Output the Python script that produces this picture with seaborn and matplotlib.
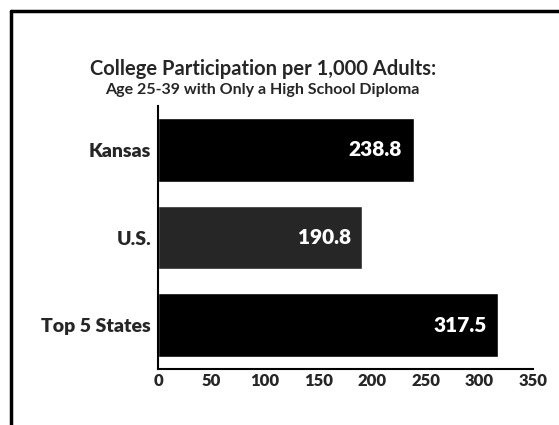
import matplotlib
matplotlib.use("Agg")
import matplotlib.pyplot as plt
import seaborn as sns
import pandas as pd
from matplotlib.lines import Line2D

categories = ["Kansas", "U.S.", "Top 5 States"]
values = [238.8, 190.8, 317.5]
bar_colors = ["#000000", "#262626", "#000000"]
x_ticks = [0, 50, 100, 150, 200, 250, 300, 350]

sns.set_theme(style="white")
plt.rcParams["font.family"] = ["Lato", "DejaVu Sans"]

df = pd.DataFrame({"category": categories, "value": values})

fig = plt.figure(figsize=(5.59, 4.25), dpi=100)
ax = fig.add_axes([158 / 559, 1 - 369 / 425, 375 / 559, 263 / 425])

sns.barplot(data=df, x="value", y="category", hue="category", palette=bar_colors,
            orient="h", width=0.73, legend=False, ax=ax, saturation=1)

ax.set_xlim(0, 350)
ax.set_ylim(2.5, -0.5)
ax.set_xticks(x_ticks)
ax.set_xticklabels([str(t) for t in x_ticks], fontsize=12, fontweight="heavy")
ax.tick_params(axis="y", labelsize=14, length=0, pad=5)
for lbl in ax.get_yticklabels():
    lbl.set_fontweight("heavy")
ax.tick_params(axis="x", length=0, pad=3)
ax.set_xlabel("")
ax.set_ylabel("")
for s in ["top", "right"]:
    ax.spines[s].set_visible(False)
for s in ["left", "bottom"]:
    ax.spines[s].set_color("black")
    ax.spines[s].set_linewidth(1.5)

for i, v in enumerate(values):
    ax.text(v - 11, i, f"{v:.1f}", color="white", fontsize=15, fontweight="heavy",
            ha="right", va="center")

fig.text(0.47, 1 - 69 / 425, "College Participation per 1,000 Adults:", ha="center",
         va="center", fontsize=14.5, fontweight="bold")
fig.text(0.47, 1 - 90 / 425, "Age 25-39 with Only a High School Diploma", ha="center",
         va="center", fontsize=11.5, fontweight="bold")

# frame
fig.add_artist(Line2D([11 / 559, 1], [1 - 11 / 425, 1 - 11 / 425], color="black", lw=2.5,
                      transform=fig.transFigure))
fig.add_artist(Line2D([11 / 559, 11 / 559], [0, 1 - 11 / 425], color="black", lw=2.5,
                      transform=fig.transFigure))

fig.savefig("out.png", dpi=100, facecolor="white")
